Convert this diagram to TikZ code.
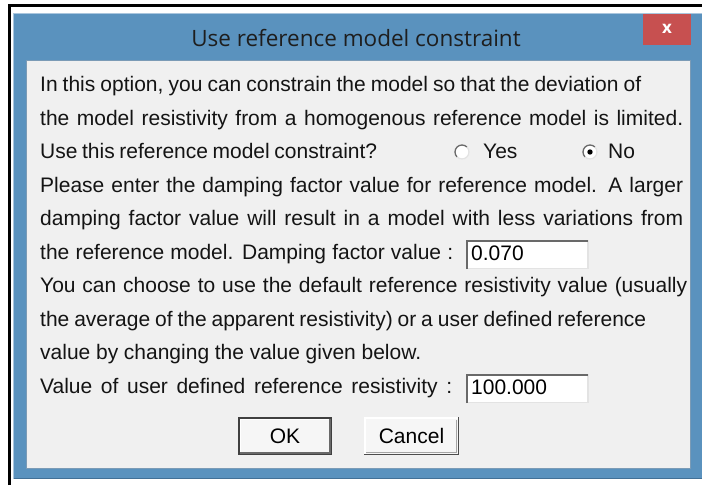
\documentclass[tikz,border=0pt]{standalone}
\usepackage{fontspec}
\setmainfont{Liberation Sans}
\newfontfamily\titlefont{Open Sans}
\definecolor{winblue}{RGB}{90,146,190}
\definecolor{winedge}{RGB}{66,112,150}
\definecolor{winlight}{RGB}{170,198,222}
\definecolor{clientbg}{RGB}{240,240,240}
\definecolor{closered}{RGB}{199,80,80}
\definecolor{titletext}{RGB}{30,30,30}
\definecolor{shadow}{RGB}{105,105,105}
\definecolor{lightedge}{RGB}{227,227,227}
% one line of dialog text spread to a given width
\newcommand{\fitline}[2]{\makebox[#1pt][s]{#2}}
\tikzset{
  txt/.style={anchor=base west, inner sep=0pt, text=black!92,
    font=\fontsize{21}{25}\selectfont},
  fieldtxt/.style={anchor=base west, inner sep=0pt, text=black,
    font=\fontsize{21}{25}\selectfont},
  btntxt/.style={anchor=center, inner sep=0pt, text=black,
    font=\fontsize{21}{25}\selectfont},
  radiobox/.style={circle, fill=white, inner sep=0pt, minimum size=15pt},
}
\begin{document}
\begin{tikzpicture}[x=1pt,y=-1pt]
\useasboundingbox (0,0) rectangle (702,485);
\fill[white] (0,0) rectangle (702,485);
% outer black frame (left and top)
\draw[black, line width=3pt] (9.5,485) -- (9.5,5.5) -- (702,5.5);
% window frame
\fill[winblue] (13,13) rectangle (702,479);
\draw[winlight, line width=1pt] (13.5,479) -- (13.5,13.5) -- (702,13.5);
\draw[winedge, line width=1pt] (13.5,478.5) -- (702,478.5);
% client area
\fill[clientbg] (26,60) rectangle (690,468);
\draw[winedge!70, line width=1pt] (26,60) rectangle (690,468);
% title and close button
\node[font=\titlefont\fontsize{22.5}{26}\selectfont, text=titletext, inner sep=0pt]
  (title) at (356,38) {Use reference model constraint};
\fill[closered] (643,14) rectangle (691,45);
\node[font=\titlefont\bfseries\fontsize{17}{20}\selectfont, text=white, inner sep=0pt]
  (close) at (667,28.5) {x};
% body text
\node[txt] (l1) at (40,91.5) {\fitline{601}{In this option, you can constrain the model so that the deviation of}};
\node[txt] (l2) at (40,125) {\fitline{643}{the model resistivity from a homogenous reference model is limited.}};
\node[txt] (l3) at (40,158.6) {\fitline{337}{Use this reference model constraint?}};
\node[txt] (l4) at (40,192) {\fitline{643}{Please enter the damping factor value for reference model. A larger}};
\node[txt] (l5) at (40,225.7) {\fitline{643}{damping factor value will result in a model with less variations from}};
\node[txt] (l6) at (40,259.3) {\fitline{413}{the reference model. Damping factor value :}};
\node[txt] (l7) at (40,292.8) {\fitline{647}{You can choose to use the default reference resistivity value (usually}};
\node[txt] (l8) at (40,326.4) {\fitline{606}{the average of the apparent resistivity) or a user defined reference}};
\node[txt] (l9) at (40,359.9) {\fitline{381}{value by changing the value given below.}};
\node[txt] (l10) at (40,393.5) {\fitline{412}{Value of user defined reference resistivity :}};
% radio buttons
\node[radiobox] (ryes) at (462,152) {};
\draw[shadow, line width=1.3pt] (ryes.center) ++(135:7) arc[start angle=135, end angle=315, radius=7];
\draw[lightedge, line width=1.3pt] (ryes.center) ++(-45:7) arc[start angle=-45, end angle=135, radius=7];
\node[txt] (yes) at (483,158.6) {Yes};
\node[radiobox] (rno) at (590,152) {};
\draw[shadow, line width=1.3pt] (rno.center) ++(135:7) arc[start angle=135, end angle=315, radius=7];
\draw[lightedge, line width=1.3pt] (rno.center) ++(-45:7) arc[start angle=-45, end angle=135, radius=7];
\fill[black] (rno.center) circle[radius=2.7];
\node[txt] (no) at (608,158.6) {No};
% damping factor field
\fill[white] (467,240) rectangle (588,269);
\draw[lightedge, line width=1.5pt] (467,268.5) -- (588,268.5) -- (588,240);
\draw[shadow, line width=2pt] (467,269) -- (467,241) -- (588,241);
\node[fieldtxt] (damp) at (471,260) {0.070};
% reference resistivity field
\fill[white] (467,374) rectangle (588,403);
\draw[lightedge, line width=1.5pt] (467,402.5) -- (588,402.5) -- (588,374);
\draw[shadow, line width=2pt] (467,403) -- (467,375) -- (588,375);
\node[fieldtxt] (rho) at (471,394) {100.000};
% OK button (default)
\fill[clientbg!60!white] (238,417) rectangle (332,455);
\draw[white, line width=1.5pt] (240,453) -- (240,419) -- (330,419);
\draw[shadow, line width=1.5pt] (240,453) -- (330,453) -- (330,419);
\draw[black!75, line width=1.5pt] (238.75,417.75) rectangle (331.25,454.25);
\node[btntxt] (ok) at (285,436) {OK};
% Cancel button
\fill[clientbg!60!white] (364,417) rectangle (459,455);
\draw[white, line width=1.5pt] (365,454) -- (365,418) -- (458,418);
\draw[black!70, line width=1.5pt] (364,454.25) -- (458.25,454.25) -- (458.25,417);
\draw[shadow!60, line width=1pt] (366,452) -- (456,452) -- (456,420);
\node[btntxt] (cancel) at (411.5,436) {Cancel};
\end{tikzpicture}
\end{document}
